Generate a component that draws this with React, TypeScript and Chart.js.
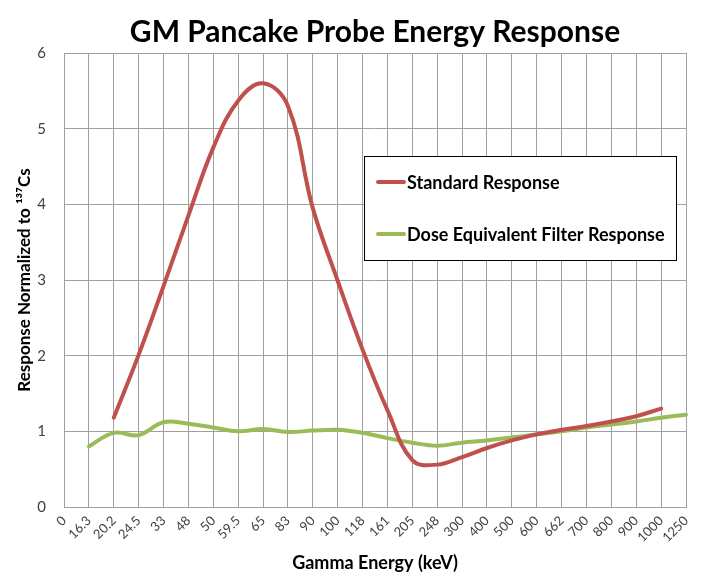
import React, { useEffect, useRef } from "react";
import { Chart, registerables } from "chart.js";

Chart.register(...registerables);

const energyLabels = ["0", "16.3", "20.2", "24.5", "33", "48", "50", "59.5", "65", "83", "90", "100", "118", "161", "205", "248", "300", "400", "500", "600", "662", "700", "800", "900", "1000", "1250"];
const standardResponse = [null, null, 1.18, 2.01, 2.92, 3.85, 4.75, 5.37, 5.6, 5.3, 3.95, 2.99, 2.08, 1.28, 0.62, 0.56, 0.66, 0.78, 0.88, 0.96, 1.02, 1.07, 1.13, 1.2, 1.3, null];
const doseEquivalentResponse = [null, 0.8, 0.98, 0.95, 1.12, 1.1, 1.05, 1.0, 1.03, 0.99, 1.01, 1.02, 0.98, 0.91, 0.85, 0.81, 0.85, 0.88, 0.92, 0.96, 1.0, 1.05, 1.09, 1.13, 1.18, 1.22];
const seriesNames = ["Standard Response", "Dose Equivalent Filter Response"];
const seriesColors = ["#C0504D", "#9BBB59"];

const FONT = "Lato, 'Open Sans', sans-serif";

const legendPlugin = {
  id: "boxLegend",
  afterDraw(chart: any) {
    const ctx = chart.ctx;
    const x = 364, y = 156, w = 312, h = 104;
    ctx.save();
    ctx.fillStyle = "#ffffff";
    ctx.fillRect(x, y, w, h);
    ctx.strokeStyle = "#000000";
    ctx.lineWidth = 1;
    ctx.strokeRect(x + 0.5, y + 0.5, w, h);
    const rows = [182, 234];
    chart.data.datasets.forEach((ds: any, i: number) => {
      ctx.strokeStyle = ds.borderColor;
      ctx.lineWidth = 4;
      ctx.lineCap = "round";
      ctx.beginPath();
      ctx.moveTo(378, rows[i]);
      ctx.lineTo(404, rows[i]);
      ctx.stroke();
      ctx.fillStyle = "#000000";
      ctx.font = `bold 18px ${FONT}`;
      ctx.textBaseline = "middle";
      ctx.textAlign = "left";
      ctx.fillText(ds.label, 407, rows[i] + 1);
    });
    ctx.restore();
  },
};

export default function App() {
  const ref = useRef<HTMLCanvasElement | null>(null);
  useEffect(() => {
    document.body.style.margin = "0";
    const chart = new Chart(ref.current as HTMLCanvasElement, {
      type: "line",
      data: {
        labels: energyLabels,
        datasets: [
          {
            label: seriesNames[0],
            data: standardResponse,
            borderColor: seriesColors[0],
            backgroundColor: seriesColors[0],
            borderWidth: 4,
            pointRadius: 0,
            tension: 0.4,
            borderCapStyle: "round",
          },
          {
            label: seriesNames[1],
            data: doseEquivalentResponse,
            borderColor: seriesColors[1],
            backgroundColor: seriesColors[1],
            borderWidth: 4,
            pointRadius: 0,
            tension: 0.4,
            borderCapStyle: "round",
          },
        ],
      },
      options: {
        animation: false,
        responsive: false,
        layout: { padding: { left: 0, right: 18, top: 0, bottom: 0 } },
        plugins: {
          legend: { display: false },
          tooltip: { enabled: false },
          title: {
            display: true,
            text: "GM Pancake Probe Energy Response",
            fullSize: false,
            color: "#000000",
            font: { family: FONT, size: 30, weight: "bold", lineHeight: 1.2 },
            padding: { top: 14, bottom: 3 },
          },
        },
        scales: {
          x: {
            type: "category",
            offset: false,
            afterFit: (s: any) => { s.height = 77; },
            grid: { color: "#a0a0a0", drawTicks: false },
            border: { color: "#a0a0a0" },
            ticks: {
              autoSkip: false,
              maxRotation: 45,
              minRotation: 45,
              padding: 6,
              color: "#404040",
              font: { family: FONT, size: 13 },
            },
            title: {
              display: true,
              text: "Gamma Energy (keV)",
              color: "#000000",
              font: { family: FONT, size: 18, weight: "bold", lineHeight: 1.2 },
              padding: { top: 0, bottom: 10 },
            },
          },
          y: {
            min: 0,
            max: 6,
            afterFit: (s: any) => { s.width = 64; },
            grid: { color: "#a0a0a0", drawTicks: false },
            border: { color: "#a0a0a0" },
            ticks: {
              stepSize: 1,
              padding: 18,
              color: "#404040",
              font: { family: FONT, size: 15 },
            },
            title: {
              display: true,
              text: "Response Normalized to ¹³⁷Cs",
              color: "#000000",
              font: { family: FONT, size: 17, weight: "bold", lineHeight: 1.2 },
              padding: { top: 14, bottom: 0 },
            },
          },
        },
      },
      plugins: [legendPlugin],
    });
    return () => chart.destroy();
  }, []);
  return (
    <div style={{ width: 704, height: 584 }}>
      <canvas ref={ref} width={704} height={584} style={{ display: "block" }} />
    </div>
  );
}
